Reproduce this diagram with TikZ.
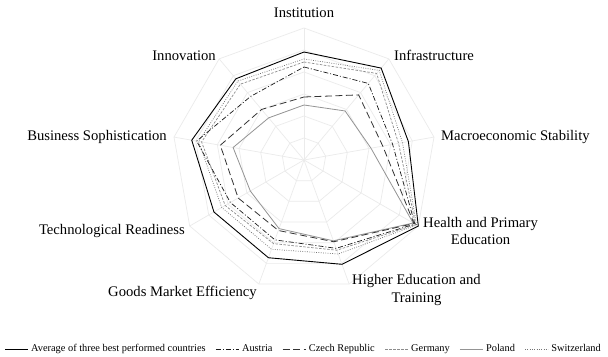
\documentclass[tikz,border=0pt]{standalone}
\usepackage{fontspec}
\setmainfont{Liberation Serif}
\begin{document}
\begin{tikzpicture}[x=1bp,y=1bp,
  gridline/.style={draw=black!8, line width=0.7bp},
  axlabel/.style={font=\fontsize{14.7}{17.5}\selectfont, inner sep=0pt},
  legtext/.style={font=\fontsize{10.4}{12}\selectfont, inner sep=0pt, anchor=west, text height=7bp, text depth=2bp},
  avg/.style={draw=black, line width=0.9bp},
  austria/.style={draw=black!90, line width=0.7bp, dash pattern=on 5bp off 2bp on 1bp off 2bp},
  czech/.style={draw=black!80, line width=0.8bp, dash pattern=on 7bp off 3.5bp},
  germany/.style={draw=black!45, line width=0.7bp, dash pattern=on 2.5bp off 1.5bp},
  poland/.style={draw=black!42, line width=0.8bp},
  swiss/.style={draw=black!55, line width=0.7bp, dash pattern=on 0.8bp off 1.5bp},
]
\fill[white] (0,0) rectangle (608,356);
\useasboundingbox (0,0) rectangle (608,356);

\begin{scope}[shift={(304,196)}]
  \coordinate (c) at (0,0);
  % grid rings
  \foreach \r in {22,44,66,88,110,132}
    \draw[gridline] (90:\r) \foreach \k in {1,...,8}{ -- ({90-40*\k}:\r)} -- cycle;
  % spokes
  \foreach \k in {0,...,8}
    \draw[gridline] (c) -- ({90-40*\k}:132);

  % series
  \draw[poland]  (90:55)  -- (50:64)  -- (10:68)  -- (-30:126) -- (-70:86)  -- (-110:73) -- (-150:62) -- (170:72)  -- (130:55)  -- cycle;
  \draw[czech]   (90:63)  -- (50:85)  -- (10:80)  -- (-30:127) -- (-70:87)  -- (-110:75) -- (-150:76) -- (170:85)  -- (130:66)  -- cycle;
  \draw[germany] (90:98)  -- (50:113) -- (10:96)  -- (-30:129) -- (-70:96)  -- (-110:89) -- (-150:91) -- (170:104) -- (130:99)  -- cycle;
  \draw[swiss]   (90:101) -- (50:117) -- (10:100) -- (-30:130) -- (-70:100) -- (-110:95) -- (-150:95) -- (170:107) -- (130:103) -- cycle;
  \draw[austria] (90:93)  -- (50:100) -- (10:90)  -- (-30:128) -- (-70:94)  -- (-110:85) -- (-150:85) -- (170:109) -- (130:83)  -- cycle;
  \draw[avg]     (90:108) -- (50:120) -- (10:106) -- (-30:132) -- (-70:111) -- (-110:104) -- (-150:104) -- (170:114) -- (130:106) -- cycle;
\end{scope}

% axis labels
\node[axlabel] (lbl0) at (304,343) {Institution};
\node[axlabel, anchor=west] (lbl1) at (394,301) {Infrastructure};
\node[axlabel, anchor=west] (lbl2) at (441,219) {Macroeconomic Stability};
\node[axlabel, anchor=west, align=center] (lbl3) at (423,125) {Health and Primary\\Education};
\node[axlabel, anchor=west, align=center] (lbl4) at (352,66) {Higher Education and\\Training};
\node[axlabel, anchor=east] (lbl5) at (257,63) {Goods Market Efficiency};
\node[axlabel, anchor=east] (lbl6) at (185,125) {Technological Readiness};
\node[axlabel, anchor=east] (lbl7) at (167,219) {Business Sophistication};
\node[axlabel, anchor=east] (lbl8) at (216,300) {Innovation};

% legend
\coordinate (la1) at (5,7); \coordinate (lb1) at (28,7);
\draw[avg] (la1) -- (lb1);
\node[legtext] (t1) at (31,7) {Average of three best performed countries};
\coordinate (la2) at ([xshift=10bp]t1.east); \coordinate (lb2) at ([xshift=33bp]t1.east);
\draw[austria] (la2) -- (lb2);
\node[legtext] (t2) at ([xshift=36bp]t1.east) {Austria};
\coordinate (la3) at ([xshift=10bp]t2.east); \coordinate (lb3) at ([xshift=33bp]t2.east);
\draw[czech] (la3) -- (lb3);
\node[legtext] (t3) at ([xshift=36bp]t2.east) {Czech Republic};
\coordinate (la4) at ([xshift=10bp]t3.east); \coordinate (lb4) at ([xshift=33bp]t3.east);
\draw[germany] (la4) -- (lb4);
\node[legtext] (t4) at ([xshift=36bp]t3.east) {Germany};
\coordinate (la5) at ([xshift=10bp]t4.east); \coordinate (lb5) at ([xshift=33bp]t4.east);
\draw[poland] (la5) -- (lb5);
\node[legtext] (t5) at ([xshift=36bp]t4.east) {Poland};
\coordinate (la6) at ([xshift=10bp]t5.east); \coordinate (lb6) at ([xshift=33bp]t5.east);
\draw[swiss] (la6) -- (lb6);
\node[legtext] (t6) at ([xshift=36bp]t5.east) {Switzerland};
\end{tikzpicture}
\end{document}
